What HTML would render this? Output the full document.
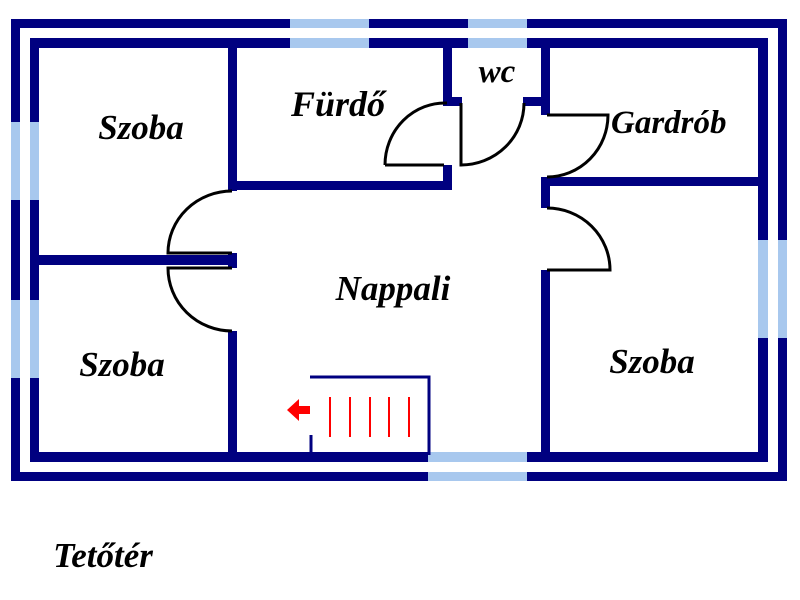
<!DOCTYPE html>
<html><head><meta charset="utf-8"><style>
html,body{margin:0;padding:0;background:#fff;}
svg{display:block}
text{font-family:"Liberation Serif",serif;font-weight:bold;font-style:italic;fill:#000;}
</style></head><body>
<svg width="800" height="600" viewBox="0 0 800 600" xmlns="http://www.w3.org/2000/svg">
<g fill="#000080">
<rect x="11" y="19" width="776" height="9"/>
<rect x="11" y="19" width="9" height="462"/>
<rect x="778" y="19" width="9" height="462"/>
<rect x="11" y="472" width="776" height="9"/>
<rect x="30" y="38" width="738" height="10"/>
<rect x="30" y="38" width="9" height="424"/>
<rect x="758" y="38" width="10" height="424"/>
<rect x="30" y="452" width="738" height="10"/>
<rect x="228" y="43" width="9" height="148"/>
<rect x="228" y="331" width="9" height="126"/>
<rect x="35" y="255" width="200" height="10"/>
<rect x="228" y="253" width="9" height="15"/>
<rect x="228" y="181" width="224" height="9"/>
<rect x="443" y="165" width="9" height="25"/>
<rect x="443" y="43" width="9" height="63"/>
<rect x="443" y="97" width="19" height="9"/>
<rect x="523" y="97" width="27" height="9"/>
<rect x="541" y="43" width="9" height="72"/>
<rect x="541" y="177" width="227" height="9"/>
<rect x="541" y="177" width="9" height="31"/>
<rect x="541" y="270" width="9" height="187"/>
</g>
<g fill="#a8c8ee">
<rect x="290" y="19" width="79" height="9"/>
<rect x="290" y="38" width="79" height="10"/>
<rect x="468" y="19" width="59" height="9"/>
<rect x="468" y="38" width="59" height="10"/>
<rect x="11" y="122" width="9" height="78"/>
<rect x="30" y="122" width="9" height="78"/>
<rect x="11" y="300" width="9" height="78"/>
<rect x="30" y="300" width="9" height="78"/>
<rect x="778" y="240" width="9" height="98"/>
<rect x="758" y="240" width="10" height="98"/>
<rect x="428" y="472" width="99" height="9"/>
<rect x="428" y="452" width="99" height="10"/>
</g>
<g fill="none" stroke="#000" stroke-width="3">
<path d="M385 165 H444 M385 165 A60 62 0 0 1 447 103"/>
<path d="M461 103 V165 A63 62 0 0 0 524 103"/>
<path d="M547 115 H608 A61 62 0 0 1 547 177"/>
<path d="M547 208 A63 62 0 0 1 610 270 H547"/>
<path d="M232 191 A64 62 0 0 0 168 253 H232"/>
<path d="M232 268 H168 A64 63 0 0 0 232 331"/>
</g>
<g stroke="#000080" stroke-width="3" fill="none">
<path d="M310 377 H429 V455"/>
<path d="M311 435 V455"/>
</g>
<g stroke="#ff0000" stroke-width="2">
<line x1="330" y1="397" x2="330" y2="437"/>
<line x1="350" y1="397" x2="350" y2="437"/>
<line x1="370" y1="397" x2="370" y2="437"/>
<line x1="389" y1="397" x2="389" y2="437"/>
<line x1="409" y1="397" x2="409" y2="437"/>
</g>
<path d="M287 410 L299 399 L299 406 L310 406 L310 414 L299 414 L299 421 Z" fill="#ff0000"/>
<text x="141" y="139" font-size="35" text-anchor="middle">Szoba</text>
<text x="338" y="116" font-size="36" text-anchor="middle">Fürdő</text>
<text x="497" y="82" font-size="33" text-anchor="middle">wc</text>
<text x="611" y="133" font-size="33">Gardrób</text>
<text x="393" y="300" font-size="35" text-anchor="middle">Nappali</text>
<text x="122" y="376" font-size="35" text-anchor="middle">Szoba</text>
<text x="652" y="373" font-size="35" text-anchor="middle">Szoba</text>
<text x="103" y="567" font-size="35" text-anchor="middle">Tetőtér</text>
</svg>
</body></html>
